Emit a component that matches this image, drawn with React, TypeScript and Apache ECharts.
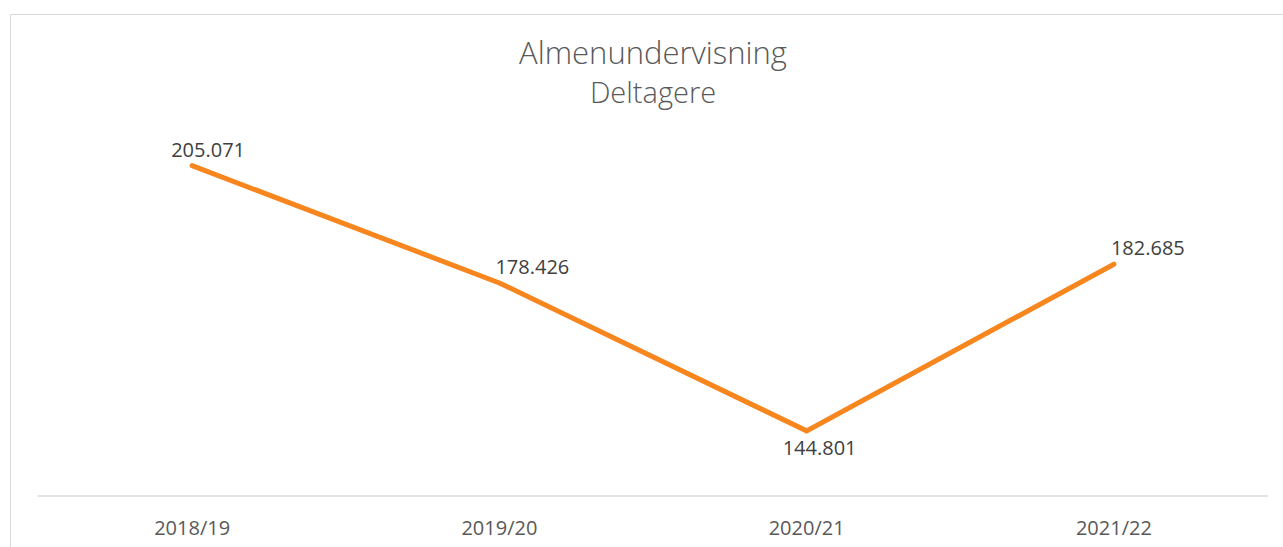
import React, { useEffect, useRef } from "react";
import * as echarts from "echarts";

const categories = ["2018/19", "2019/20", "2020/21", "2021/22"];
const values = [205071, 178426, 144801, 182685];
const titleText = "Almenundervisning";
const subtitleText = "Deltagere";
const labelOffsets: [number, number][] = [
  [16, 0],
  [33, 0],
  [13, 0],
  [34, 0],
];
const labelPositions = ["top", "top", "bottom", "top"];

const fmt = (v: number) => {
  const s = String(Math.round(v));
  return s.replace(/\B(?=(\d{3})+(?!\d))/g, ".");
};

export default function App() {
  const ref = useRef<HTMLDivElement>(null);
  useEffect(() => {
    if (!ref.current) return;
    const chart = echarts.init(ref.current, undefined, { renderer: "svg" });
    chart.setOption({
      animation: false,
      backgroundColor: "#ffffff",
      graphic: [
        {
          type: "rect",
          shape: { x: 10.5, y: 14.5, width: 1290, height: 560 },
          style: { fill: "none", stroke: "#d9d9d9", lineWidth: 1 },
          silent: true,
        },
        {
          type: "text",
          x: 653,
          y: 52,
          style: {
            text: titleText,
            textAlign: "center",
            textVerticalAlign: "middle",
            fontFamily: "Open Sans",
            fontWeight: 300,
            fontSize: 31,
            fill: "#595959",
          },
        },
        {
          type: "text",
          x: 653,
          y: 91,
          style: {
            text: subtitleText,
            textAlign: "center",
            textVerticalAlign: "middle",
            fontFamily: "Open Sans",
            fontWeight: 300,
            fontSize: 29,
            fill: "#595959",
          },
        },
      ],
      grid: { left: 38.5, right: 15.5, top: 100, bottom: 51 },
      xAxis: {
        type: "category",
        data: categories,
        boundaryGap: true,
        axisLine: { show: true, lineStyle: { color: "#d9d9d9", width: 1.5 } },
        axisTick: { show: false },
        axisLabel: {
          margin: 21,
          fontFamily: "Open Sans",
          fontSize: 20,
          color: "#595959",
        },
      },
      yAxis: {
        type: "value",
        min: 130000,
        max: 220000,
        show: false,
        splitLine: { show: false },
      },
      series: [
        {
          type: "line",
          data: values.map((v, i) => ({
            value: v,
            label: {
              position: labelPositions[i],
              offset: labelOffsets[i],
            },
          })),
          showSymbol: true,
          symbol: "circle",
          symbolSize: 1,
          lineStyle: { color: "#F7861F", width: 5, cap: "round", join: "miter" },
          itemStyle: { color: "rgba(0,0,0,0)" },
          label: {
            show: true,
            distance: 6,
            fontFamily: "Open Sans",
            fontSize: 20,
            color: "#404040",
            formatter: (p: any) => fmt(p.value),
          },
        },
      ],
    });
    return () => chart.dispose();
  }, []);
  return (
    <div
      ref={ref}
      style={{ position: "absolute", left: 0, top: 0, width: 1283, height: 547 }}
    />
  );
}
